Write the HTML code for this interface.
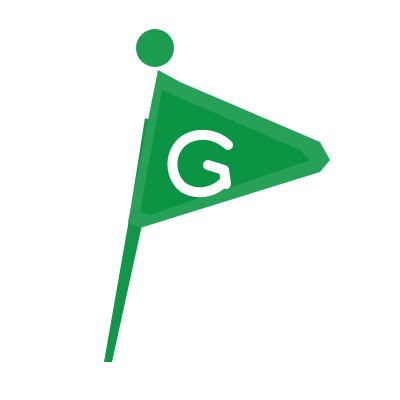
<!DOCTYPE html>
<html><head><style>html,body{margin:0;padding:0;background:#fff;width:400px;height:400px;overflow:hidden}</style></head>
<body>
<svg width="400" height="400" viewBox="0 0 400 400">
  <g>
    <polygon points="104,362 112,362 142,225 150,120 145,118 128,225" fill="#11964a"/>
  </g>
  <circle cx="155" cy="48" r="19" fill="#1c9c4e"/>
  <polygon points="158,70 180,82 320,142 330,160 320,172 140,228 128,222 148,120" fill="#27a058"/>
  <polygon points="162,90 300,150 310,160 150,215 140,212" fill="#0a9444"/>
  <g fill="none" stroke="#fff" stroke-width="10" stroke-linecap="round" stroke-linejoin="round">
    <path d="M228,145 C214,132 194,132 182,142 C168,155 170,178 184,188 C198,196 214,192 224,182"/>
    <path d="M208,165 L224,170 L226,184"/>
  </g>
</svg>
</body></html>
